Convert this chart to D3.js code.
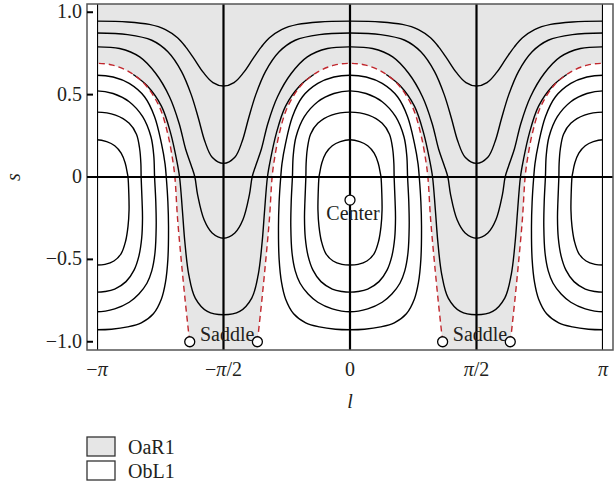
<!DOCTYPE html>
<html>
<head>
<meta charset="utf-8">
<script src="https://cdn.jsdelivr.net/npm/d3@7"></script>
<style>
  body { margin: 0; background: #fff; }
  svg text { font-family: "Liberation Serif", "DejaVu Serif", serif; fill: #231f20; }
</style>
</head>
<body>
<svg id="chart" width="615" height="487"></svg>
<script>
const PI = Math.PI;

// contour lines, [l, s], for one quarter of the plane (l from 0 to pi/2)
// closed orbits around the centre: right half, top to bottom
const w1 = [[0,0.226],[0.12,0.215],[0.22,0.19],[0.3,0.145],[0.35,0.085],[0.378,0.02],[0.385,0],[0.395,-0.1],[0.398,-0.2],[0.385,-0.3],[0.355,-0.39],[0.3,-0.465],[0.21,-0.51],[0.1,-0.53],[0,-0.534]];
const w2 = [[0,0.394],[0.23,0.376],[0.4,0.326],[0.49,0.26],[0.53,0.17],[0.545,0.08],[0.548,0],[0.56,-0.15],[0.565,-0.25],[0.555,-0.37],[0.52,-0.48],[0.46,-0.565],[0.36,-0.635],[0.22,-0.68],[0.1,-0.695],[0,-0.699]];
const w3 = [[0,0.523],[0.2,0.507],[0.4,0.457],[0.567,0.366],[0.67,0.244],[0.705,0.13],[0.715,0],[0.73,-0.15],[0.735,-0.3],[0.72,-0.46],[0.68,-0.57],[0.62,-0.645],[0.52,-0.71],[0.4,-0.76],[0.22,-0.8],[0,-0.818]];
const w4 = [[0,0.618],[0.2,0.607],[0.4,0.568],[0.59,0.487],[0.715,0.366],[0.8,0.204],[0.845,0.08],[0.86,0],[0.88,-0.15],[0.888,-0.3],[0.88,-0.5],[0.85,-0.64],[0.8,-0.74],[0.7,-0.83],[0.55,-0.885],[0.38,-0.91],[0.18,-0.924],[0,-0.927]];
// separatrix: from the top of the lobe down to the saddle
const sep = [[0,0.69],[0.195,0.679],[0.4,0.638],[0.6,0.56],[0.775,0.426],[0.877,0.265],[0.94,0.103],[0.967,0],[1.0,-0.25],[1.045,-0.5],[1.095,-0.75],[1.15,-1.0]];
// open orbits in the grey channel, l = 0 .. pi/2
const g1 = [[0,0.946],[0.38,0.941],[0.65,0.926],[0.85,0.895],[1.0,0.845],[1.1,0.79],[1.2,0.722],[1.32,0.635],[1.44,0.573],[PI/2,0.552]];
const g2 = [[0,0.874],[0.38,0.864],[0.68,0.83],[0.88,0.76],[1.05,0.64],[1.17,0.5],[1.26,0.355],[1.34,0.215],[1.43,0.12],[PI/2,0.083]];
const g3 = [[0,0.79],[0.28,0.78],[0.53,0.729],[0.73,0.628],[0.9,0.487],[1.02,0.325],[1.1,0.17],[1.17,0.07],[1.215,0],[1.25,-0.11],[1.33,-0.26],[1.43,-0.34],[PI/2,-0.372]];
const g4 = [[0.45,0.622],[0.62,0.555],[0.8,0.43],[0.915,0.265],[0.99,0.1],[1.025,0],[1.06,-0.2],[1.09,-0.39],[1.14,-0.594],[1.22,-0.735],[1.37,-0.816],[PI/2,-0.836]];

const lobeCentres = [-PI, 0, PI];
const saddleL = [-1.99, -1.15, 1.15, 1.99];
const saddleS = -1;
const saddleLabelL = [-1.15, 1.99];
const centre = [0, -0.14];

const xTicks = [-PI, -PI / 2, 0, PI / 2, PI];
const xTickLabels = ["−π", "−π/2", "0", "π/2", "π"];
const yTicks = [-1, -0.5, 0, 0.5, 1];
const yTickLabels = ["−1.0", "−0.5", "0", "0.5", "1.0"];
const legendNames = ["OaR1", "ObL1"];
const legendFills = ["#e6e6e6", "#ffffff"];

const svg = d3.select("#chart");
const x = d3.scaleLinear().domain([-PI, PI]).range([97, 603]);
const y = d3.scaleLinear().domain([-1.05, 1.05]).range([350, 4]);

const openLine = d3.line().x(d => x(d[0])).y(d => y(d[1])).curve(d3.curveCatmullRom.alpha(0.5));
const closedLine = d3.line().x(d => x(d[0])).y(d => y(d[1])).curve(d3.curveCatmullRomClosed.alpha(0.5));

const mirror = pts => pts.map(([l, s]) => [-l, s]);
const shift = (pts, c) => pts.map(([l, s]) => [l + c, s]);
// whole closed orbit from its right half
const lobe = half => half.concat(mirror(half).slice(1, -1).reverse());
// whole channel orbit (0..pi) from its quarter
const channel = q => q.concat(q.slice(0, -1).reverse().map(([l, s]) => [PI - l, s]));
// separatrix from left saddle over the top to right saddle
const sepFull = mirror(sep).reverse().concat(sep.slice(1));

svg.append("clipPath").attr("id", "plotclip")
  .append("rect")
  .attr("x", x(-PI)).attr("y", y(1.05))
  .attr("width", x(PI) - x(-PI)).attr("height", y(-1.05) - y(1.05));

const plot = svg.append("g").attr("clip-path", "url(#plotclip)");

// grey region OaR1
plot.append("rect")
  .attr("x", x(-PI)).attr("y", y(1.05))
  .attr("width", x(PI) - x(-PI)).attr("height", y(-1.05) - y(1.05))
  .attr("fill", "#e6e6e6");

// white region ObL1 inside the separatrix
plot.selectAll("path.lobe")
  .data(lobeCentres)
  .join("path")
  .attr("class", "lobe")
  .attr("fill", "#fff")
  .attr("d", c => {
    const pts = shift(sepFull, c);
    const last = pts[pts.length - 1], first = pts[0];
    return openLine(pts) + `L${x(last[0])},${y(-1.05)}L${x(first[0])},${y(-1.05)}Z`;
  });

// grid lines
plot.selectAll("line.vgrid")
  .data(xTicks)
  .join("line")
  .attr("x1", d => x(d)).attr("x2", d => x(d))
  .attr("y1", y(1.05)).attr("y2", y(-1.05))
  .attr("stroke", "#000").attr("stroke-width", 2.2);

// contour lines
const closedOrbits = [];
[w1, w2, w3, w4].forEach(w => lobeCentres.forEach(c => closedOrbits.push(shift(lobe(w), c))));
plot.selectAll("path.orbit")
  .data(closedOrbits)
  .join("path")
  .attr("class", "orbit")
  .attr("fill", "none").attr("stroke", "#000").attr("stroke-width", 1.4)
  .attr("d", closedLine);

const openOrbits = [];
[g1, g2, g3, g4].forEach(g => [1, -1].forEach(side => {
  const pts = channel(g);
  openOrbits.push(side > 0 ? pts : mirror(pts));
}));
plot.selectAll("path.channel")
  .data(openOrbits)
  .join("path")
  .attr("class", "channel")
  .attr("fill", "none").attr("stroke", "#000").attr("stroke-width", 1.4)
  .attr("d", openLine);

// separatrix
plot.selectAll("path.sep")
  .data(lobeCentres)
  .join("path")
  .attr("class", "sep")
  .attr("fill", "none").attr("stroke", "#c1272d").attr("stroke-width", 1.4)
  .attr("stroke-dasharray", "6,4")
  .attr("d", c => openLine(shift(sepFull, c)));

// horizontal zero line and frame
svg.append("line")
  .attr("x1", 87).attr("x2", 613).attr("y1", y(0)).attr("y2", y(0))
  .attr("stroke", "#000").attr("stroke-width", 2.2);
svg.append("rect")
  .attr("x", 87).attr("y", 4).attr("width", 526).attr("height", 346)
  .attr("fill", "none").attr("stroke", "#555").attr("stroke-width", 1.5);

// y axis ticks and labels
svg.selectAll("line.ytick")
  .data(yTicks)
  .join("line")
  .attr("x1", 87).attr("x2", 93)
  .attr("y1", d => y(d)).attr("y2", d => y(d))
  .attr("stroke", "#000").attr("stroke-width", 2);
svg.selectAll("text.ylab")
  .data(yTicks)
  .join("text")
  .attr("x", 82).attr("y", d => y(d) + 6)
  .attr("text-anchor", "end").attr("font-size", 20)
  .text((d, i) => yTickLabels[i]);

// x labels, pi in italics
svg.selectAll("text.xlab")
  .data(xTicks)
  .join("text")
  .attr("x", d => x(d)).attr("y", 376)
  .attr("text-anchor", "middle").attr("font-size", 20)
  .each(function (d, i) {
    const t = d3.select(this);
    xTickLabels[i].split(/(π)/).filter(p => p).forEach(p => {
      t.append("tspan").attr("font-style", p === "π" ? "italic" : "normal").text(p);
    });
  });

svg.append("text")
  .attr("x", x(0)).attr("y", 408)
  .attr("text-anchor", "middle").attr("font-size", 20).attr("font-style", "italic")
  .text("l");
svg.append("text")
  .attr("transform", `translate(20,${y(0)}) rotate(-90)`)
  .attr("text-anchor", "middle").attr("font-size", 20).attr("font-style", "italic")
  .text("s");

// centre and saddles
svg.append("circle")
  .attr("cx", x(centre[0])).attr("cy", y(centre[1])).attr("r", 5)
  .attr("fill", "#fff").attr("stroke", "#000").attr("stroke-width", 1.3);
svg.append("text")
  .attr("x", x(centre[0]) + 3).attr("y", y(centre[1]) + 20)
  .attr("text-anchor", "middle").attr("font-size", 20)
  .text("Center");

svg.selectAll("circle.saddle")
  .data(saddleL)
  .join("circle")
  .attr("cx", d => x(d)).attr("cy", y(saddleS)).attr("r", 5)
  .attr("fill", "#fff").attr("stroke", "#000").attr("stroke-width", 1.3);
svg.selectAll("text.saddle")
  .data(saddleLabelL)
  .join("text")
  .attr("x", d => x(d) - 3).attr("y", y(saddleS) - 1)
  .attr("text-anchor", "end").attr("font-size", 20)
  .text("Saddle");

// legend
const legend = svg.selectAll("g.legend")
  .data(legendNames)
  .join("g")
  .attr("transform", (d, i) => `translate(87,${437 + i * 24})`);
legend.append("rect")
  .attr("width", 28).attr("height", 19)
  .attr("fill", (d, i) => legendFills[i])
  .attr("stroke", "#333").attr("stroke-width", 1.3);
legend.append("text")
  .attr("x", 41).attr("y", 17)
  .attr("font-size", 20)
  .text(d => d);
</script>
</body>
</html>
